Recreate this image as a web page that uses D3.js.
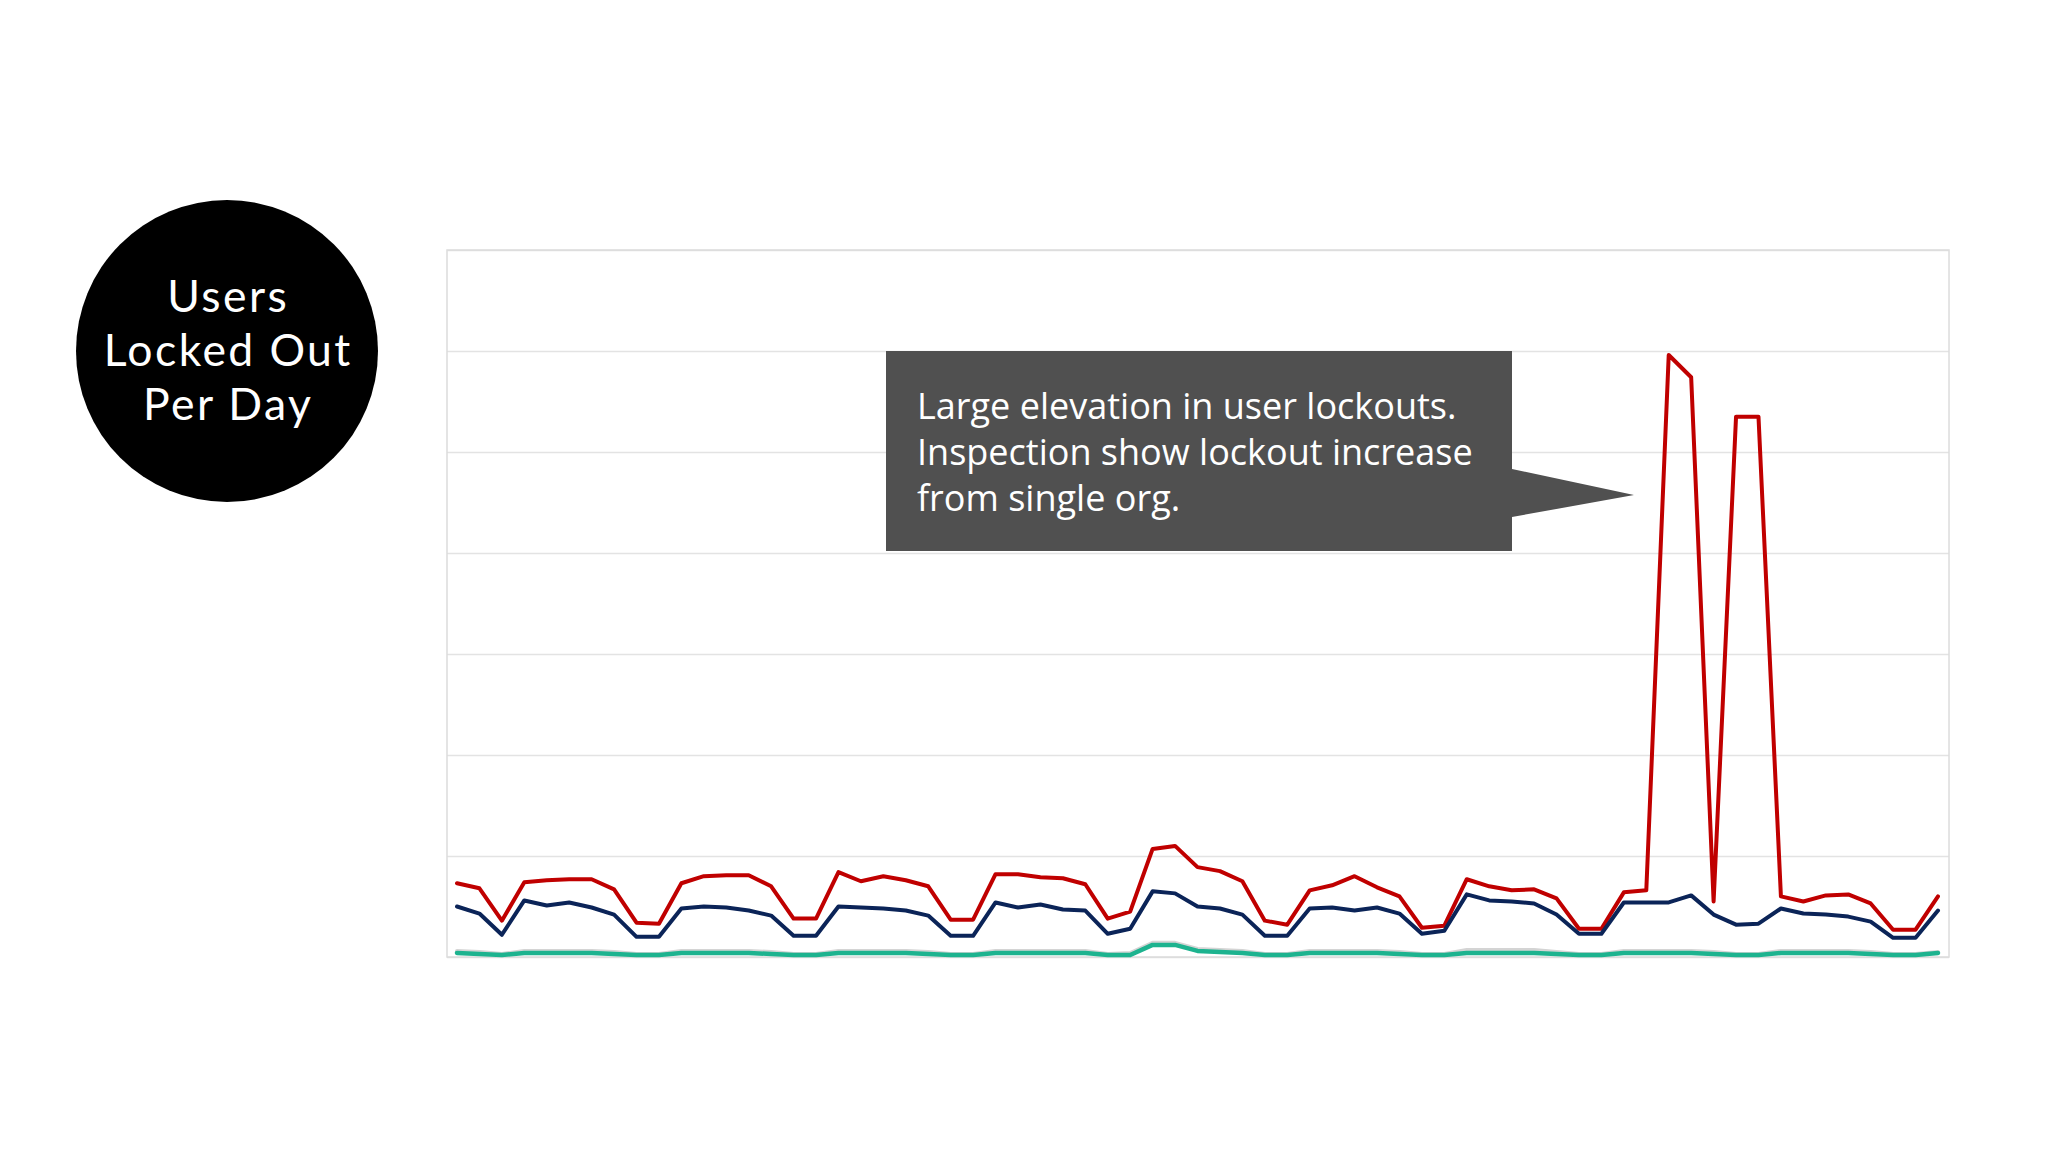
<!DOCTYPE html>
<html>
<head>
<meta charset="utf-8">
<script src="https://cdn.jsdelivr.net/npm/d3@7"></script>
<style>
  html, body { margin: 0; padding: 0; background: #ffffff; }
  svg { display: block; }
  text { font-family: "Open Sans", "Noto Sans", sans-serif; }
  .title { font-family: Lato, "Open Sans", sans-serif; }
</style>
</head>
<body>
<svg id="chart" width="2048" height="1152"></svg>
<script>
// ---- data ----
const days = d3.range(1, 68).map(d => "Day " + d);

const totalLockouts = [73,68,36,74,76,77,77,67,34,33,73,80,81,81,70,38,38,84,75,80,
  76,70,37,37,82,82,79,78,72,38,45,107,110,89,85,75,36,32,66,71,
  80,69,60,29,31,77,70,66,67,58,28,28,64,66,596,574,55,535,535,60,
  55,61,62,53,27,27,60];

const seriesB = [50,43,22,56,51,54,49,42,20,20,48,50,49,46,41,21,21,50,49,48,
  46,41,21,21,54,49,52,47,46,23,28,65,63,50,48,42,21,21,48,49,
  46,49,43,23,26,62,56,55,53,42,23,23,54,54,54,61,42,32,33,48,
  43,42,40,35,19,19,46];

const seriesC = [6,5,3,6,6,6,6,5,3,3,6,6,6,6,5,3,3,6,6,6,
  6,5,3,3,6,6,6,6,6,3,4,14,14,8,7,6,3,3,6,6,
  6,6,5,3,3,7,7,7,7,5,3,3,6,6,6,6,5,3,3,6,
  6,6,6,5,3,3,5];

const seriesD = [4,3,2,4,4,4,4,3,2,2,4,4,4,4,3,2,2,4,4,4,
  4,3,2,2,4,4,4,4,4,2,2,12,12,6,5,4,2,2,4,4,
  4,4,3,2,2,4,4,4,4,3,2,2,4,4,4,4,3,2,2,4,
  4,4,4,3,2,2,4];

const yTicks = [0,100,200,300,400,500,600,700];
const titleLines = ["Users", "Locked Out", "Per Day"];
const calloutLines = ["Large elevation in user lockouts.",
                      "Inspection show lockout increase",
                      "from single org."];

// ---- layout ----
const svg = d3.select("#chart");
const plot = { left: 447, right: 1949, top: 250, bottom: 957 };

const x = d3.scalePoint().domain(days).range([457, 1938]);
const y = d3.scaleLinear().domain([0, 700]).range([plot.bottom, plot.top]);

// gridlines
svg.append("g")
  .attr("transform", `translate(${plot.left},0)`)
  .call(d3.axisLeft(y).tickValues(yTicks).tickSize(-(plot.right - plot.left)).tickFormat(""))
  .call(g => g.select(".domain").remove())
  .call(g => g.selectAll(".tick line").attr("stroke", "#e3e3e3").attr("stroke-width", 1.5));

// frame
svg.append("rect")
  .attr("x", plot.left).attr("y", plot.top)
  .attr("width", plot.right - plot.left).attr("height", plot.bottom - plot.top)
  .attr("fill", "none").attr("stroke", "#dcdcdc").attr("stroke-width", 1.5);

const line = d3.line().x((d, i) => x(days[i])).y(d => y(d));

const series = [
  { values: totalLockouts, color: "#c00000", w: 4 },
  { values: seriesB, color: "#0b2458", w: 4 },
  { values: seriesC, color: "#d4d4d4", w: 4 },
  { values: seriesD, color: "#1db38f", w: 4.5 }
];

svg.append("g").selectAll("path").data(series).join("path")
  .attr("d", s => line(s.values))
  .attr("fill", "none")
  .attr("stroke", s => s.color)
  .attr("stroke-width", s => s.w)
  .attr("stroke-linejoin", "round")
  .attr("stroke-linecap", "round");

// title circle
const cx = 227, cy = 351;
svg.append("circle").attr("cx", cx).attr("cy", cy).attr("r", 151).attr("fill", "#000");
const titleBase = [312, 366, 420];
svg.append("g").selectAll("text").data(titleLines).join("text")
  .attr("class", "title")
  .attr("x", cx + 1.2).attr("y", (d, i) => titleBase[i])
  .attr("text-anchor", "middle").attr("fill", "#fff")
  .attr("letter-spacing", 2.4)
  .attr("font-size", 44.5).text(d => d);

// callout
const bx0 = 886, bx1 = 1512, by0 = 351, by1 = 551;
const calloutPath = d3.path();
calloutPath.moveTo(bx0, by0);
calloutPath.lineTo(bx1, by0);
calloutPath.lineTo(bx1, 469);
calloutPath.lineTo(1634, 495);
calloutPath.lineTo(bx1, 517);
calloutPath.lineTo(bx1, by1);
calloutPath.lineTo(bx0, by1);
calloutPath.closePath();
svg.append("path").attr("d", calloutPath.toString()).attr("fill", "#505050");

const cBase = [419, 465, 511];
const ct = svg.append("g").selectAll("text").data(calloutLines).join("text")
  .attr("x", 917).attr("y", (d, i) => cBase[i])
  .attr("fill", "#fff").attr("font-size", 36).text(d => d);
{
  const w = ct.nodes()[1].getComputedTextLength();
  const fs = 36 * 556 / w;
  ct.attr("font-size", fs);
}
</script>
</body>
</html>
